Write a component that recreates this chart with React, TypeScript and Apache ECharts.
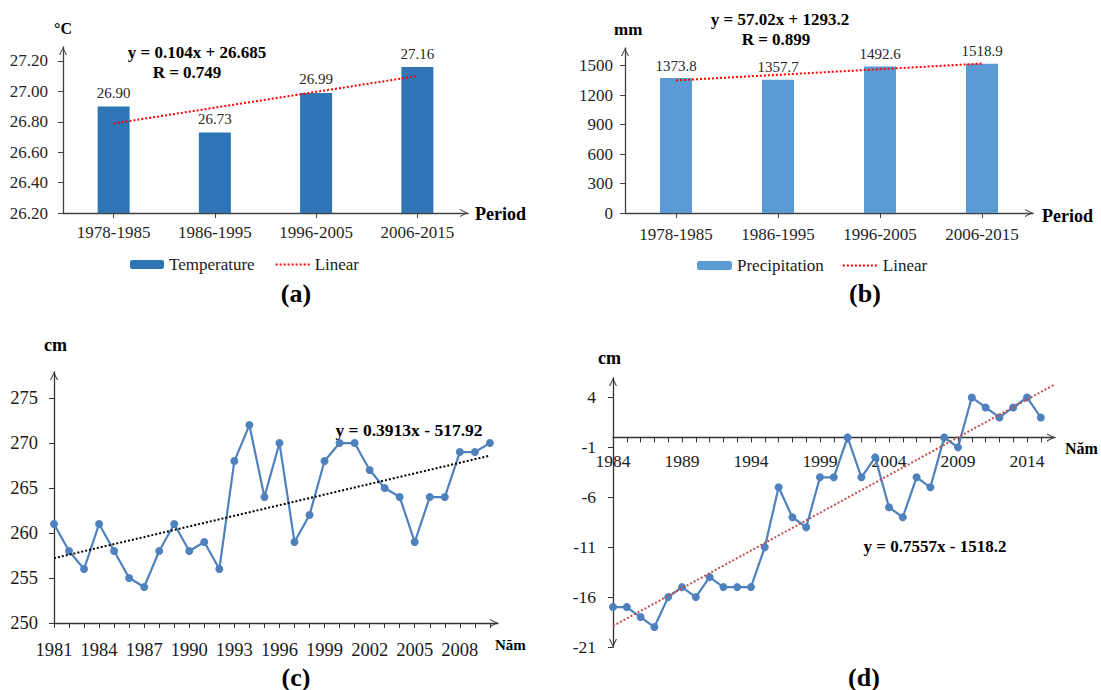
import React, { useEffect, useRef } from 'react';
import * as echarts from 'echarts';

const FONT = 'Liberation Serif, Times New Roman, serif';

// ---- Panel (a): temperature by period ----
const periods = ['1978-1985', '1986-1995', '1996-2005', '2006-2015'];
const temperature = [26.9, 26.73, 26.99, 27.16];
const temperatureLinear = [26.789, 26.893, 26.997, 27.101];
const temperatureTicks = [26.2, 26.4, 26.6, 26.8, 27.0, 27.2];

// ---- Panel (b): precipitation by period ----
const precipitation = [1373.8, 1357.7, 1492.6, 1518.9];
const precipitationLinear = [1350.2, 1407.2, 1464.3, 1521.3];
const precipitationTicks = [0, 300, 600, 900, 1200, 1500];

// ---- Panel (c): water level 1981-2010 ----
const yearsC = [1981, 1982, 1983, 1984, 1985, 1986, 1987, 1988, 1989, 1990, 1991, 1992, 1993, 1994, 1995, 1996, 1997, 1998, 1999, 2000, 2001, 2002, 2003, 2004, 2005, 2006, 2007, 2008, 2009, 2010];
const levelC = [261, 258, 256, 261, 258, 255, 254, 258, 261, 258, 259, 256, 268, 272, 264, 270, 259, 262, 268, 270, 270, 267, 265, 264, 259, 264, 264, 269, 269, 270];
const trendC = [[1981, 257.2], [2010, 268.6]];
const yearLabelsC = [1981, 1984, 1987, 1990, 1993, 1996, 1999, 2002, 2005, 2008];
const levelTicksC = [250, 255, 260, 265, 270, 275];

// ---- Panel (d): level anomaly 1984-2015 ----
const yearsD = [1984, 1985, 1986, 1987, 1988, 1989, 1990, 1991, 1992, 1993, 1994, 1995, 1996, 1997, 1998, 1999, 2000, 2001, 2002, 2003, 2004, 2005, 2006, 2007, 2008, 2009, 2010, 2011, 2012, 2013, 2014, 2015];
const levelD = [-17, -17, -18, -19, -16, -15, -16, -14, -15, -15, -15, -11, -5, -8, -9, -4, -4, 0, -4, -2, -7, -8, -4, -5, 0, -1, 4, 3, 2, 3, 4, 2];
const trendD = [[1984, -18.9], [2016, 5.3]];
const yearLabelsD = [1984, 1989, 1994, 1999, 2004, 2009, 2014];
const levelTicksD = [-21, -16, -11, -6, -1, 4];

const ARROW = 'path://M0,10L5,0L10,10L8.6,10L5,2.6L1.4,10Z';

function axisLine(color: string, both = false, onZero = true) {
  return {
    show: true,
    onZero,
    symbol: both ? [ARROW, ARROW] : ['none', ARROW],
    symbolSize: [10, 8],
    symbolOffset: [both ? 4 : 0, -4],
    lineStyle: { color, width: 1.3 },
  };
}

function txt(x: number, y: number, text: string, size: number, align = 'left', bold = true) {
  return {
    type: 'text',
    x,
    y,
    silent: true,
    style: {
      text,
      fill: '#000',
      fontFamily: FONT,
      fontSize: size,
      fontWeight: bold ? 'bold' : 'normal',
      align,
      textAlign: align,
      verticalAlign: 'middle',
      textVerticalAlign: 'middle',
    },
  };
}

const numFmt = (v: number) => String(v);

export default function App() {
  const ref = useRef<HTMLDivElement>(null);

  useEffect(() => {
    if (!ref.current) return;
    const chart = echarts.init(ref.current, null, { renderer: 'svg' });
    const axisGray = '#404040';
    const axisDark = '#333';
    const labelA = { fontFamily: FONT, color: '#262626' };

    // grid (d): zero line sits 209.6 px above the grid bottom (min -21, 269 px for 26.95 units)
    const gridDTop = 378;
    const gridDHeight = 269;
    const dMin = -21;
    const dMax = 5.95;
    const zeroOffset = -(gridDHeight * (0 - dMin)) / (dMax - dMin);

    const option: any = {
      animation: false,
      grid: [
        { left: 63, top: 47, width: 405, height: 166, outerBoundsMode: 'none', containLabel: false },
        { left: 625, top: 48, width: 408, height: 165, outerBoundsMode: 'none', containLabel: false },
        { left: 54, top: 372, width: 444, height: 251, outerBoundsMode: 'none', containLabel: false },
        { left: 613, top: gridDTop, width: 442, height: gridDHeight, outerBoundsMode: 'none', containLabel: false },
      ],
      xAxis: [
        {
          gridIndex: 0,
          type: 'category',
          data: periods,
          boundaryGap: true,
          axisLine: axisLine(axisGray),
          axisTick: { show: true, alignWithLabel: true, length: 5, lineStyle: { color: axisGray } },
          axisLabel: { ...labelA, fontSize: 17, margin: 11 },
          splitLine: { show: false },
        },
        {
          gridIndex: 1,
          type: 'category',
          data: periods,
          boundaryGap: true,
          axisLine: axisLine(axisGray),
          axisTick: { show: true, alignWithLabel: true, length: 5, lineStyle: { color: axisGray } },
          axisLabel: { ...labelA, fontSize: 17, margin: 13 },
          splitLine: { show: false },
        },
        {
          gridIndex: 2,
          type: 'value',
          min: 1981,
          max: 2010.54,
          axisLine: axisLine(axisDark),
          axisTick: { show: true, length: 5, customValues: yearsC, lineStyle: { color: axisDark } },
          axisLabel: { fontFamily: FONT, color: '#1a1a1a', fontSize: 18.5, margin: 17, customValues: yearLabelsC, formatter: numFmt },
          splitLine: { show: false },
        },
        {
          gridIndex: 3,
          type: 'value',
          min: 1984,
          max: 2016.03,
          offset: zeroOffset,
          axisLine: axisLine(axisDark, false, false),
          axisTick: { show: true, length: 5, customValues: yearsD, lineStyle: { color: axisDark } },
          axisLabel: { fontFamily: FONT, color: '#1a1a1a', fontSize: 17.5, margin: 15, customValues: yearLabelsD, formatter: numFmt },
          splitLine: { show: false },
        },
      ],
      yAxis: [
        {
          gridIndex: 0,
          type: 'value',
          min: 26.2,
          max: 27.292,
          axisLine: axisLine(axisGray),
          axisTick: { show: true, length: 5, customValues: temperatureTicks, lineStyle: { color: axisGray } },
          axisLabel: { ...labelA, fontSize: 17, margin: 15, customValues: temperatureTicks, formatter: (v: number) => v.toFixed(2) },
          splitLine: { show: false },
        },
        {
          gridIndex: 1,
          type: 'value',
          min: 0,
          max: 1680,
          axisLine: axisLine(axisGray),
          axisTick: { show: true, length: 5, customValues: precipitationTicks, lineStyle: { color: axisGray } },
          axisLabel: { ...labelA, fontSize: 17, margin: 12, customValues: precipitationTicks, formatter: numFmt },
          splitLine: { show: false },
        },
        {
          gridIndex: 2,
          type: 'value',
          min: 250,
          max: 277.9,
          axisLine: axisLine(axisDark),
          axisTick: { show: true, length: 5, customValues: levelTicksC, lineStyle: { color: axisDark } },
          axisLabel: { fontFamily: FONT, color: '#1a1a1a', fontSize: 18.5, margin: 16, customValues: levelTicksC, formatter: numFmt },
          splitLine: { show: false },
        },
        {
          gridIndex: 3,
          type: 'value',
          min: dMin,
          max: dMax,
          axisLine: axisLine(axisDark, true, false),
          axisTick: { show: true, length: 5, customValues: levelTicksD, lineStyle: { color: axisDark } },
          axisLabel: { fontFamily: FONT, color: '#1a1a1a', fontSize: 17.5, margin: 17, customValues: levelTicksD, formatter: numFmt },
          splitLine: { show: false },
        },
      ],
      legend: [
        {
          data: ['Temperature', { name: 'Linear', itemStyle: { opacity: 0 } }],
          left: 130,
          top: 256,
          padding: 0,
          itemWidth: 34,
          itemHeight: 9,
          itemGap: 20,
          selectedMode: false,
          textStyle: { fontFamily: FONT, fontSize: 17, color: '#1a1a1a' },
        },
        {
          data: ['Precipitation', { name: 'Linear', itemStyle: { opacity: 0 } }],
          left: 697,
          top: 257,
          padding: 0,
          itemWidth: 35,
          itemHeight: 9,
          itemGap: 18,
          selectedMode: false,
          textStyle: { fontFamily: FONT, fontSize: 17, color: '#1a1a1a' },
        },
      ],
      series: [
        {
          name: 'Temperature',
          type: 'bar',
          xAxisIndex: 0,
          yAxisIndex: 0,
          data: temperature,
          barWidth: 32,
          itemStyle: { color: '#2E75B6' },
          label: {
            show: true,
            position: 'top',
            distance: 6,
            fontFamily: FONT,
            fontSize: 15,
            color: '#262626',
            formatter: (p: any) => Number(p.value).toFixed(2),
          },
        },
        {
          name: 'Linear',
          type: 'line',
          xAxisIndex: 0,
          yAxisIndex: 0,
          data: temperatureLinear,
          symbol: 'none',
          lineStyle: { color: '#FF0000', width: 2, type: 'dotted' },
          itemStyle: { color: '#FF0000' },
          z: 5,
        },
        {
          name: 'Precipitation',
          type: 'bar',
          xAxisIndex: 1,
          yAxisIndex: 1,
          data: precipitation,
          barWidth: 32,
          itemStyle: { color: '#5B9BD5' },
          label: {
            show: true,
            position: 'top',
            distance: 5,
            fontFamily: FONT,
            fontSize: 15,
            color: '#262626',
            formatter: (p: any) => Number(p.value).toFixed(1),
          },
        },
        {
          name: 'Linear',
          type: 'line',
          xAxisIndex: 1,
          yAxisIndex: 1,
          data: precipitationLinear,
          symbol: 'none',
          lineStyle: { color: '#FF0000', width: 2, type: 'dotted' },
          itemStyle: { color: '#FF0000' },
          z: 5,
        },
        {
          name: 'levelC',
          type: 'line',
          xAxisIndex: 2,
          yAxisIndex: 2,
          data: yearsC.map((y, i) => [y, levelC[i]]),
          symbol: 'circle',
          symbolSize: 8,
          lineStyle: { color: '#4F81BD', width: 2.2 },
          itemStyle: { color: '#4F81BD' },
        },
        {
          name: 'trendC',
          type: 'line',
          xAxisIndex: 2,
          yAxisIndex: 2,
          data: trendC,
          symbol: 'none',
          lineStyle: { color: '#000', width: 2, type: 'dotted' },
          z: 5,
        },
        {
          name: 'levelD',
          type: 'line',
          xAxisIndex: 3,
          yAxisIndex: 3,
          data: yearsD.map((y, i) => [y, levelD[i]]),
          symbol: 'circle',
          symbolSize: 8,
          lineStyle: { color: '#4F81BD', width: 2.2 },
          itemStyle: { color: '#4F81BD' },
        },
        {
          name: 'trendD',
          type: 'line',
          xAxisIndex: 3,
          yAxisIndex: 3,
          data: trendD,
          symbol: 'none',
          lineStyle: { color: '#C0504D', width: 2, type: 'dotted' },
          z: 5,
        },
      ],
      graphic: [
        // (a)
        txt(54, 28, '°C', 16),
        txt(197, 52, 'y = 0.104x + 26.685', 17, 'center'),
        txt(187, 72, 'R = 0.749', 17, 'center'),
        txt(475, 213.5, 'Period', 18),
        txt(296, 293, '(a)', 26, 'center'),
        // (b)
        txt(614, 29, 'mm', 17),
        txt(780, 19, 'y = 57.02x + 1293.2', 17, 'center'),
        txt(776, 39, 'R = 0.899', 17, 'center'),
        txt(1042, 216, 'Period', 18),
        txt(865, 293, '(b)', 26, 'center'),
        // (c)
        txt(44, 345, 'cm', 18),
        txt(409, 430, 'y = 0.3913x - 517.92', 17.5, 'center'),
        txt(495, 645, 'Năm', 15),
        txt(296, 677, '(c)', 26, 'center'),
        // (d)
        txt(598, 358, 'cm', 18),
        txt(1065, 448, 'Năm', 16),
        txt(935, 546, 'y = 0.7557x - 1518.2', 17, 'center'),
        txt(864, 677, '(d)', 26, 'center'),
      ],
    };

    chart.setOption(option);
    return () => chart.dispose();
  }, []);

  return (
    <div
      ref={ref}
      style={{ position: 'absolute', left: 0, top: 0, width: 1101, height: 690, background: '#fff' }}
    />
  );
}
